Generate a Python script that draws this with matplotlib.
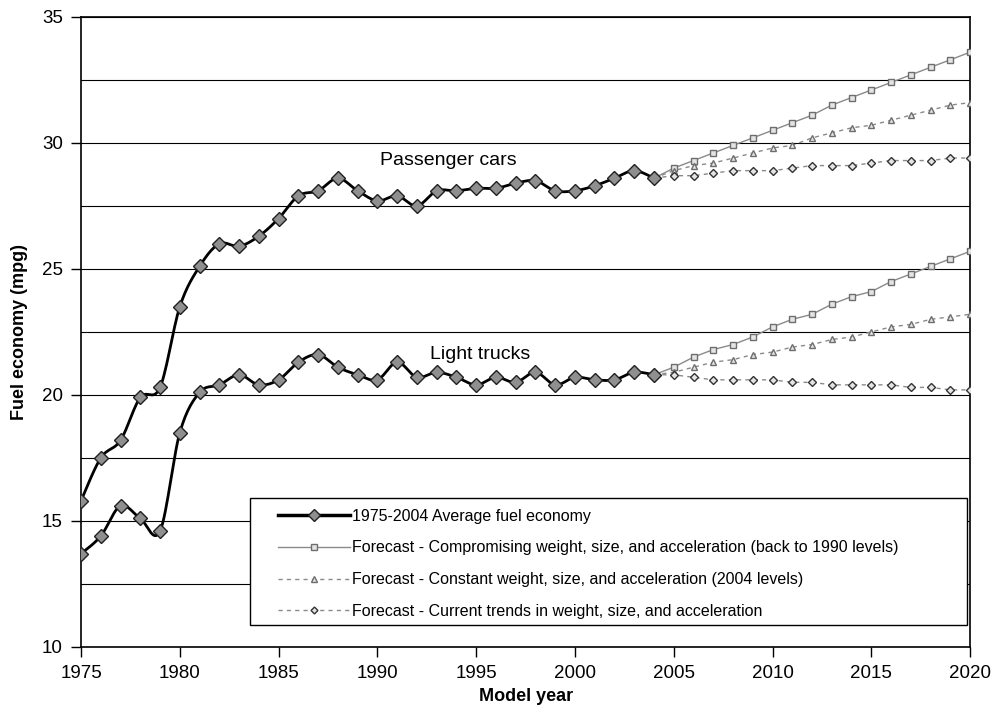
import numpy as np
import matplotlib
matplotlib.use("Agg")
import matplotlib.pyplot as plt
from matplotlib.lines import Line2D
from matplotlib.patches import Rectangle

plt.rcParams["font.family"] = ["Liberation Sans", "DejaVu Sans"]

# historical averages, model years 1975-2004
hist_years = list(range(1975, 2005))
cars_hist = [15.8, 17.5, 18.2, 19.9, 20.3, 23.5, 25.1, 26.0, 25.9, 26.3,
             27.0, 27.9, 28.1, 28.6, 28.1, 27.7, 27.9, 27.5, 28.1, 28.1,
             28.2, 28.2, 28.4, 28.5, 28.1, 28.1, 28.3, 28.6, 28.9, 28.6]
trucks_hist = [13.7, 14.4, 15.6, 15.1, 14.6, 18.5, 20.1, 20.4, 20.8, 20.4,
               20.6, 21.3, 21.6, 21.1, 20.8, 20.6, 21.3, 20.7, 20.9, 20.7,
               20.4, 20.7, 20.5, 20.9, 20.4, 20.7, 20.6, 20.6, 20.9, 20.8]

# forecasts, 2004-2020 (start from the 2004 value)
fc_years = list(range(2004, 2021))
cars_compromise = [28.6, 29.0, 29.3, 29.6, 29.9, 30.2, 30.5, 30.8, 31.1,
                   31.5, 31.8, 32.1, 32.4, 32.7, 33.0, 33.3, 33.6]
cars_constant = [28.6, 28.9, 29.1, 29.2, 29.4, 29.6, 29.8, 29.9, 30.2,
                 30.4, 30.6, 30.7, 30.9, 31.1, 31.3, 31.5, 31.6]
cars_trends = [28.6, 28.7, 28.7, 28.8, 28.9, 28.9, 28.9, 29.0, 29.1,
               29.1, 29.1, 29.2, 29.3, 29.3, 29.3, 29.4, 29.4]
trucks_compromise = [20.8, 21.1, 21.5, 21.8, 22.0, 22.3, 22.7, 23.0, 23.2,
                     23.6, 23.9, 24.1, 24.5, 24.8, 25.1, 25.4, 25.7]
trucks_constant = [20.8, 20.9, 21.1, 21.3, 21.4, 21.6, 21.7, 21.9, 22.0,
                   22.2, 22.3, 22.5, 22.7, 22.8, 23.0, 23.1, 23.2]
trucks_trends = [20.8, 20.8, 20.7, 20.6, 20.6, 20.6, 20.6, 20.5, 20.5,
                 20.4, 20.4, 20.4, 20.4, 20.3, 20.3, 20.2, 20.2]

legend_labels = [
    "1975-2004 Average fuel economy",
    "Forecast - Compromising weight, size, and acceleration (back to 1990 levels)",
    "Forecast - Constant weight, size, and acceleration (2004 levels)",
    "Forecast - Current trends in weight, size, and acceleration",
]


def smooth(x, y, steps=16):
    # bezier smoothing through every point, like a spreadsheet "smoothed line"
    x = np.asarray(x, float)
    y = np.asarray(y, float)
    p = np.column_stack([x, y])
    ext = np.vstack([p[0], p, p[-1]])
    t = np.linspace(0, 1, steps)[:, None]
    out = []
    for i in range(len(p) - 1):
        p0, p3 = ext[i + 1], ext[i + 2]
        c1 = p0 + (ext[i + 2] - ext[i]) / 6.0
        c2 = p3 - (ext[i + 3] - ext[i + 1]) / 6.0
        seg = ((1 - t) ** 3) * p0 + 3 * ((1 - t) ** 2) * t * c1 + 3 * (1 - t) * t ** 2 * c2 + t ** 3 * p3
        out.append(seg if i == 0 else seg[1:])
    out = np.vstack(out)
    return out[:, 0], out[:, 1]


fig = plt.figure(figsize=(9.94, 7.16), dpi=100)
ax = fig.add_axes([0.0815, 0.0964, 0.8945, 0.880])

grey_line = "#8a8a8a"
fc_face = "#e4e4e4"
fc_edge = "#6e6e6e"

for comp, const, trend in [(cars_compromise, cars_constant, cars_trends),
                           (trucks_compromise, trucks_constant, trucks_trends)]:
    ax.plot(fc_years, comp, color=grey_line, lw=1.0, marker="s", ms=4.5,
            mfc=fc_face, mec=fc_edge, mew=1.0, zorder=3)
    ax.plot(fc_years, const, color=grey_line, lw=1.0, ls=(0, (3, 3)), marker="^", ms=5,
            mfc=fc_face, mec=fc_edge, mew=1.0, zorder=3)
    ax.plot(fc_years, trend, color=grey_line, lw=1.0, ls=(0, (3, 3)), marker="D", ms=3.8,
            mfc=fc_face, mec="#333333", mew=1.0, zorder=3)

for series in [cars_hist, trucks_hist]:
    sx, sy = smooth(hist_years, series)
    ax.plot(sx, sy, color="black", lw=2.0, zorder=4)
    ax.plot(hist_years, series, ls="none", marker="D", ms=7,
            mfc="#8f8f8f", mec="#202020", mew=1.0, zorder=5)

ax.set_xlim(1975, 2020)
ax.set_ylim(10, 35)
ax.set_xticks(range(1975, 2021, 5))
ax.set_yticks(range(10, 36, 5))
for yv in np.arange(12.5, 35.1, 2.5):
    ax.axhline(yv, color="black", lw=0.8, zorder=1)
ax.tick_params(axis="both", direction="out", length=7, width=1.0, labelsize=13.5, pad=6)
for s in ax.spines.values():
    s.set_linewidth(1.2)
    s.set_color("black")

ax.set_xlabel("Model year", fontsize=13, fontweight="bold", labelpad=4)
ax.set_ylabel("Fuel economy (mpg)", fontsize=13, fontweight="bold", labelpad=10)

ax.text(1993.6, 29.3, "Passenger cars", fontsize=14, ha="center", va="center", zorder=6)
ax.text(1995.2, 21.6, "Light trucks", fontsize=14, ha="center", va="center", zorder=6)

# legend box drawn on its own so the entries can sit with a wider left margin
box = Rectangle((0.19, 0.035), 0.807, 0.2015, transform=ax.transAxes,
                facecolor="white", edgecolor="black", lw=1.0, zorder=9)
ax.add_patch(box)

handles = [
    Line2D([], [], color="black", lw=2.5, marker="D", ms=6.5, mfc="#8f8f8f", mec="#202020"),
    Line2D([], [], color=grey_line, lw=1.0, marker="s", ms=4, mfc=fc_face, mec=fc_edge),
    Line2D([], [], color=grey_line, lw=1.0, ls=(0, (3, 3)), marker="^", ms=4.5, mfc=fc_face, mec=fc_edge),
    Line2D([], [], color=grey_line, lw=1.0, ls=(0, (3, 3)), marker="D", ms=3.5, mfc=fc_face, mec="#333333"),
]
leg = ax.legend(handles, legend_labels, loc="upper left",
                bbox_to_anchor=(0.2216, 0.2195), borderaxespad=0.0, borderpad=0.0,
                fontsize=11.5, handlelength=4.5, handletextpad=0.15,
                labelspacing=1.05, frameon=False)
leg.set_zorder(10)

fig.savefig("out.png", dpi=100)
